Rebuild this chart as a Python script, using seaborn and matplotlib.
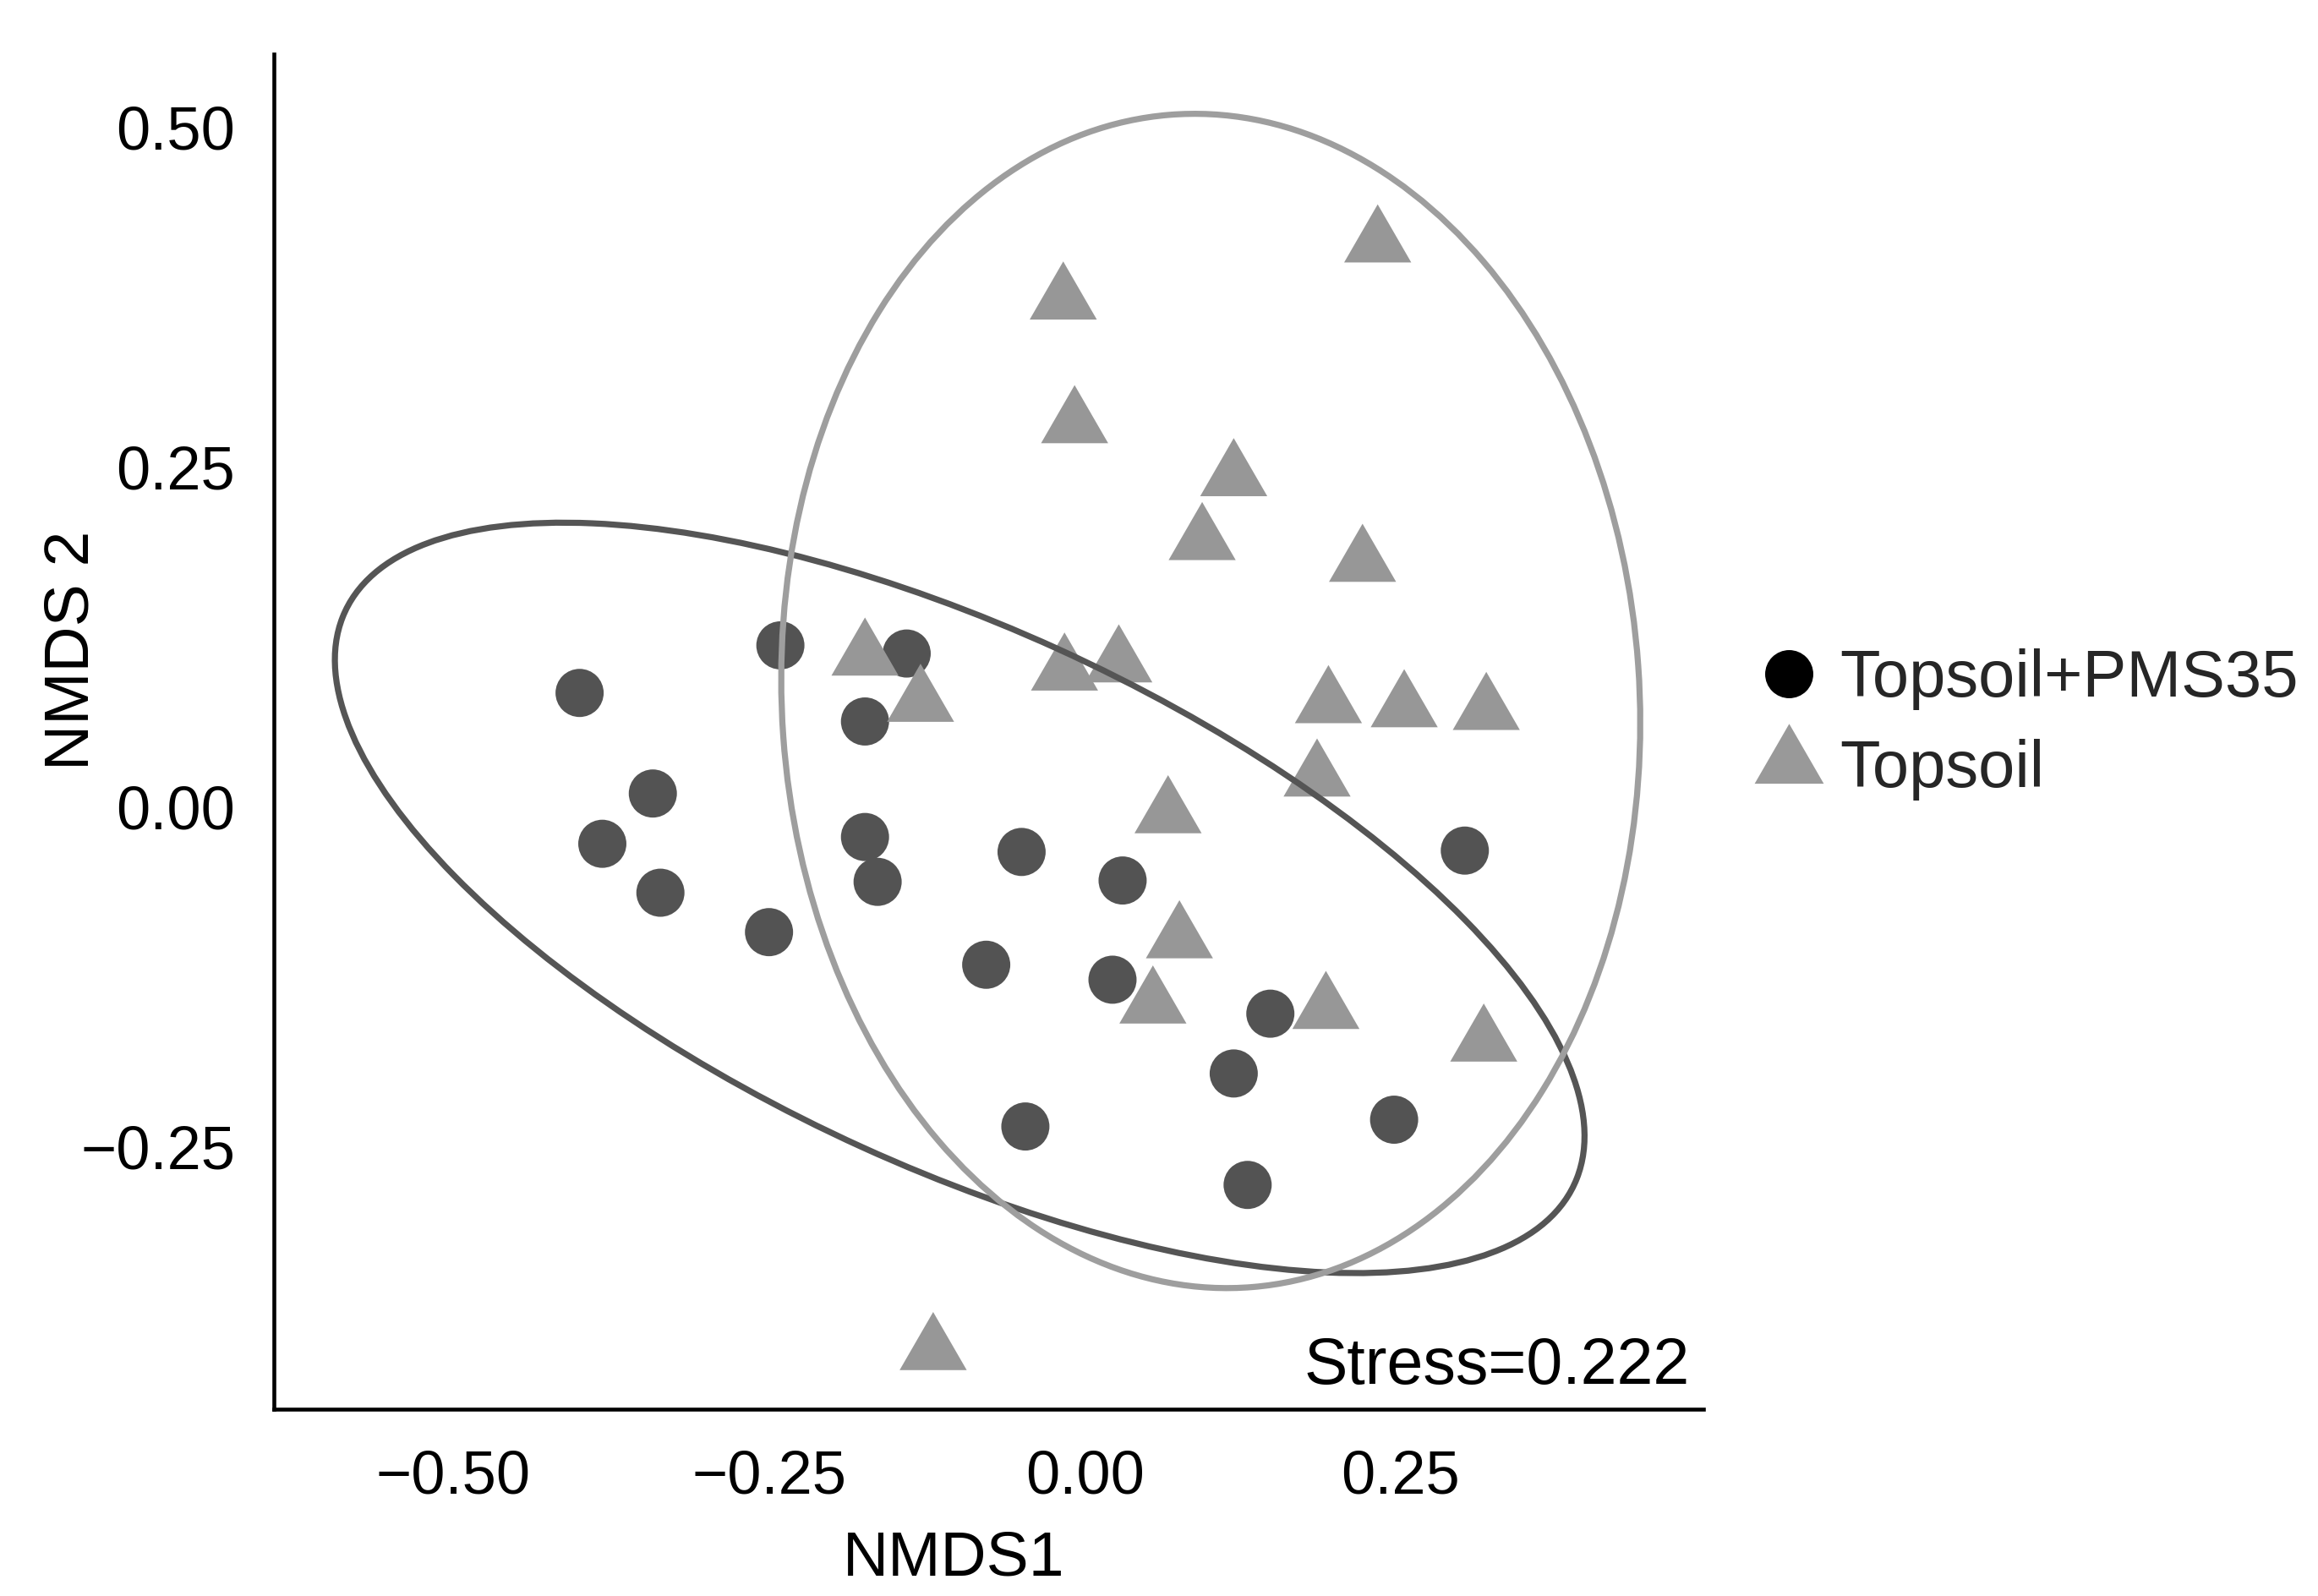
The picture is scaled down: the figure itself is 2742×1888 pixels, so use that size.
import numpy as np
import pandas as pd
import matplotlib
matplotlib.use("Agg")
import matplotlib.pyplot as plt
from matplotlib.patches import Ellipse
from matplotlib.lines import Line2D
from matplotlib.markers import MarkerStyle
import seaborn as sns

# ---------------- data ----------------
groups = ["Topsoil+PMS35", "Topsoil"]

pms_x = [-0.400, -0.241, -0.342, -0.382, -0.336, -0.250, -0.141, -0.174, -0.174, -0.164,
         -0.050, 0.030, -0.078, 0.022, 0.147, 0.118, -0.047, 0.245, 0.129, 0.301]
pms_y = [0.084, 0.119, 0.010, -0.027, -0.063, -0.092, 0.113, 0.063, -0.022, -0.055,
         -0.033, -0.054, -0.116, -0.127, -0.152, -0.196, -0.235, -0.230, -0.278, -0.032]

top_x = [0.232, -0.017, -0.008, 0.118, 0.093, 0.220, -0.174, -0.130, -0.016, 0.027,
         0.193, 0.253, 0.318, 0.184, 0.066, 0.075, 0.054, 0.191, 0.316, -0.120]
top_y = [0.415, 0.373, 0.282, 0.243, 0.196, 0.180, 0.111, 0.077, 0.100, 0.106,
         0.076, 0.073, 0.071, 0.022, -0.005, -0.097, -0.145, -0.149, -0.173, -0.400]

# confidence ellipses (centre, full width, full height, angle in degrees)
ell_cx = [-0.099, 0.0998]
ell_cy = [-0.0668, 0.0781]
ell_w = [1.061, 0.865]
ell_h = [0.398, 0.679]
ell_angle = [-22.9, 94.4]

x_ticks = [-0.50, -0.25, 0.00, 0.25]
x_tick_labels = ["\u22120.50", "\u22120.25", "0.00", "0.25"]
y_ticks = [-0.25, 0.00, 0.25, 0.50]
y_tick_labels = ["\u22120.25", "0.00", "0.25", "0.50"]
x_title = "NMDS1"
y_title = "NMDS 2"
stress_text = "Stress=0.222"

# ---------------- styling ----------------
sns.set_style("white")
plt.rcParams["font.family"] = ["Liberation Sans", "DejaVu Sans"]

point_colors = {"Topsoil+PMS35": "#535353", "Topsoil": "#979797"}
ellipse_colors = ["#555555", "#9e9e9e"]
legend_colors = ["#000000", "#999999"]

tri = MarkerStyle([(0, 1), (-0.866, -0.5), (0.866, -0.5), (0, 1)])
markers = {"Topsoil+PMS35": "o", "Topsoil": tri}
sizes = {"Topsoil+PMS35": 41 ** 2, "Topsoil": 66 ** 2}

df = pd.DataFrame({
    "NMDS1": pms_x + top_x,
    "NMDS2": pms_y + top_y,
    "group": [groups[0]] * len(pms_x) + [groups[1]] * len(top_x),
})

fig = plt.figure(figsize=(27.42, 18.88), dpi=100)
ax = fig.add_axes([0.1182, 0.11706, 0.6167, 0.8490])

sns.scatterplot(data=df, x="NMDS1", y="NMDS2", hue="group", style="group",
                size="group", palette=point_colors, markers=markers, sizes=sizes,
                hue_order=groups, style_order=groups, size_order=groups,
                linewidth=0, edgecolor="none", legend=False, ax=ax, zorder=2)

for cx, cy, w, h, a, c in zip(ell_cx, ell_cy, ell_w, ell_h, ell_angle, ellipse_colors):
    ax.add_patch(Ellipse((cx, cy), w, h, angle=a, fill=False, edgecolor=c,
                         linewidth=5.2, zorder=3))

ax.set_xlim(-0.642, 0.490)
ax.set_ylim(-0.443, 0.554)
ax.set_xticks(x_ticks)
ax.set_xticklabels(x_tick_labels)
ax.set_yticks(y_ticks)
ax.set_yticklabels(y_tick_labels)
ax.tick_params(axis="both", length=0, labelsize=52, colors="black")
ax.tick_params(axis="x", pad=34)
ax.tick_params(axis="y", pad=33)

for s in ["top", "right"]:
    ax.spines[s].set_visible(False)
for s in ["left", "bottom"]:
    ax.spines[s].set_color("black")
    ax.spines[s].set_linewidth(3.3)

ax.set_xlabel(x_title, fontsize=54, color="black")
ax.set_ylabel(y_title, fontsize=54, color="black")
ax.xaxis.set_label_coords(0.4755, -0.1104)
ax.xaxis.label.set_va("center")
ax.yaxis.set_label_coords(-0.1413, 0.560)
ax.yaxis.label.set_va("center")

ax.text(0.9905, 0.0187, stress_text, transform=ax.transAxes, ha="right",
        va="baseline", fontsize=55.5, color="black")

handles = [
    Line2D([], [], marker="o", linestyle="", markersize=41, color=legend_colors[0],
           markeredgewidth=0),
    Line2D([], [], marker=tri, linestyle="", markersize=68, color=legend_colors[1],
           markeredgewidth=0),
]
fig.legend(handles, groups, loc="center left", bbox_to_anchor=(0.7575, 0.5461),
           frameon=False, fontsize=56, handlelength=1.0, handletextpad=0.28,
           labelspacing=0.43, borderpad=0, borderaxespad=0)

fig.savefig("out.png", dpi=100, facecolor="white")
